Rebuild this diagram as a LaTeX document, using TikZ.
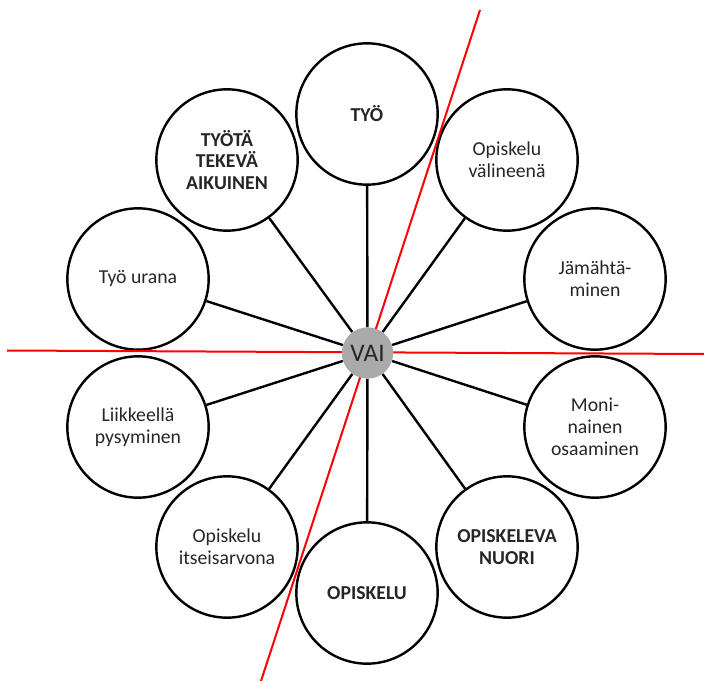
\documentclass[tikz,border=0pt]{standalone}
\usepackage{fontspec}
\setmainfont{Carlito}
\usepackage{tikz}
\usetikzlibrary{calc}
\definecolor{vaiharmaa}{RGB}{170,170,170}
\definecolor{tekstiharmaa}{RGB}{38,38,38}

\begin{document}
\begin{tikzpicture}[
            x=0.75pt, y=-0.75pt,
            font=\fontsize{14.8}{16.3}\selectfont,
            pallo/.style={circle, draw, line width=1.8pt, minimum size=106pt,
            inner sep=0pt, align=center, text=tekstiharmaa},
            vahva/.style={pallo, font=\fontsize{14.8}{16.3}\selectfont\bfseries},
            puola/.style={line width=1.8pt},
            jako/.style={red, line width=1.5pt}
        ]
            \useasboundingbox (0,0) rectangle (704,681);

            % Pallot kehälle
            \node[vahva] (tyo) at (367,114) {TYÖ};
            \node[pallo] (valineena) at (507,160) {Opiskelu\\välineenä};
            \node[pallo] (jamahta) at (595,279) {Jämähtä-\\minen};
            \node[pallo] (moninainen) at (595,427) {Moni-\\nainen\\osaaminen};
            \node[vahva] (nuori) at (507,547) {OPISKELEVA\\NUORI};
            \node[vahva] (opiskelu) at (367,593) {OPISKELU};
            \node[pallo] (itseisarvo) at (227,547) {Opiskelu\\itseisarvona};
            \node[pallo] (liikkeella) at (138,427) {Liikkeellä\\pysyminen};
            \node[pallo] (urana) at (138,279) {Työ urana};
            \node[vahva] (aikuinen) at (227,160) {TYÖTÄ\\TEKEVÄ\\AIKUINEN};

            % Punaiset jakoviivat
            \coordinate (V1) at (7,350.5);
            \coordinate (V2) at (704,354);
            \coordinate (D1) at (480,10);
            \coordinate (D2) at (261,681);
            \draw[jako] (V1) -- (V2);
            \draw[jako] (D1) -- (D2);

            % Keskipallo
            \node[circle, fill=vaiharmaa, minimum size=38.5pt, inner sep=0pt,
                  text=tekstiharmaa, font=\fontsize{19}{22}\selectfont] (vai) at (367.5,353) {VAI};

            % Puolat keskeltä palloihin
            \draw[puola] (vai) -- (tyo);
            \draw[puola] (vai) -- (valineena);
            \draw[puola] (vai) -- (jamahta);
            \draw[puola] (vai) -- (moninainen);
            \draw[puola] (vai) -- (nuori);
            \draw[puola] (vai) -- (opiskelu);
            \draw[puola] (vai) -- (itseisarvo);
            \draw[puola] (vai) -- (liikkeella);
            \draw[puola] (vai) -- (urana);
            \draw[puola] (vai) -- (aikuinen);

        \end{tikzpicture}
\end{document}
